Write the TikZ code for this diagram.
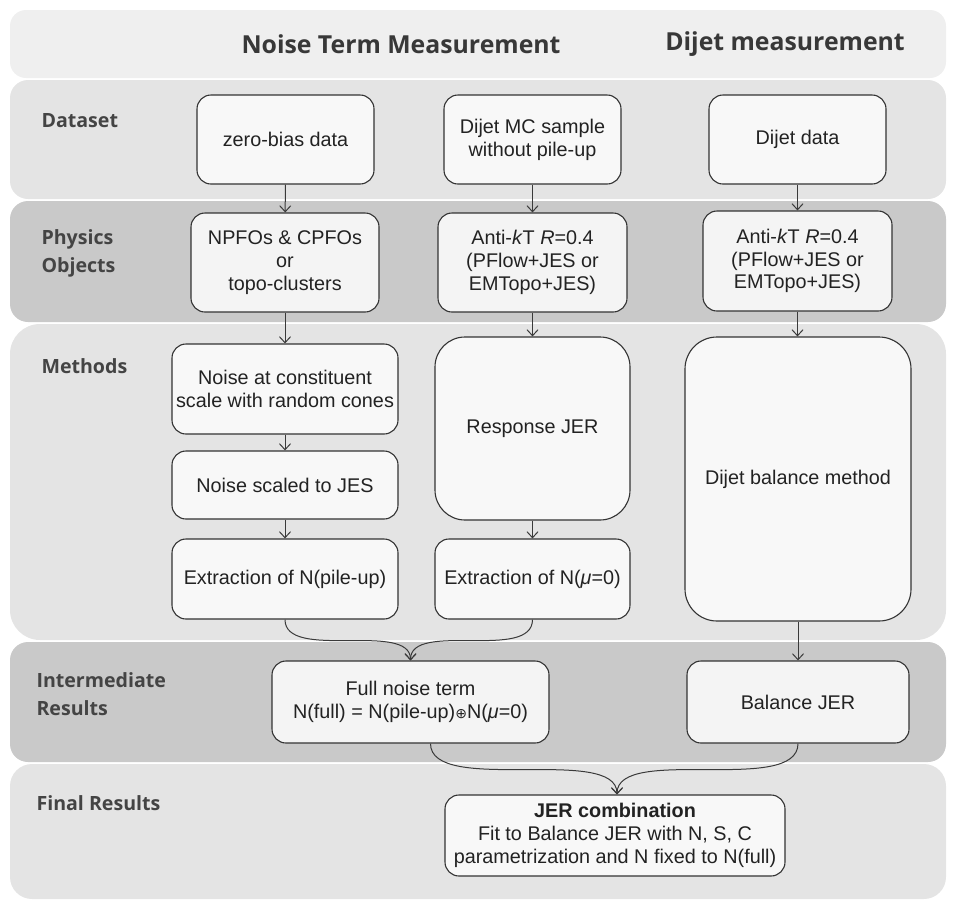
\documentclass[tikz,border=0pt]{standalone}
\usepackage{fontspec}
\setmainfont{Liberation Sans}
\newfontfamily\osans{Open Sans}
\newfontfamily\dejavu{DejaVu Sans}
\usetikzlibrary{arrows.meta,calc}
\definecolor{hdr}{HTML}{EFEFEF}
\definecolor{lightband}{HTML}{E4E4E4}
\definecolor{darkband}{HTML}{C9C9C9}
\definecolor{boxfill}{HTML}{F8F8F8}
\definecolor{boxfilld}{HTML}{F4F4F4}
\definecolor{boxline}{HTML}{333333}
\definecolor{txt}{HTML}{222222}
\definecolor{lab}{HTML}{444444}
\definecolor{head}{HTML}{383838}
\definecolor{arrcol}{HTML}{3A3A3A}
\begin{document}
\begin{tikzpicture}[x=1pt,y=-1pt,
  box/.style={draw=boxline, line width=1.1pt, fill=boxfill, rounded corners=14pt,
    align=center, inner sep=2pt, font=\fontsize{19.8}{22.8}\selectfont, text=txt},
  dbox/.style={box, fill=boxfilld},
  arr/.style={draw=arrcol, line width=1pt, -{Straight Barb[length=6pt,width=11pt]}},
  rowlab/.style={anchor=west, align=left, font=\osans\bfseries\fontsize{19.6}{28}\selectfont, text=lab},
  headlab/.style={font=\osans\bfseries\fontsize{24.8}{28}\selectfont, text=head}]
\useasboundingbox (0,0) rectangle (958,911);
% bands
\fill[hdr, rounded corners=16pt] (10,10) rectangle (946,78);
\fill[lightband, rounded corners=18pt] (10,80) rectangle (946,199);
\fill[darkband, rounded corners=18pt] (10,201) rectangle (946,322);
\fill[lightband, rounded corners=30pt] (10,324) rectangle (946,640);
\fill[darkband, rounded corners=18pt] (10,642) rectangle (946,762);
\fill[lightband, rounded corners=22pt] (10,764) rectangle (946,899);
% headings
\node[headlab] (h1) at (401,44) {Noise Term Measurement};
\node[headlab] (h2) at (785,44) {Dijet measurement};
% row labels
\node[rowlab] (l1) at (38,120.5) {Dataset};
\node[rowlab] (l2) at (38,253.5) {Physics\\Objects};
\node[rowlab] (l3) at (38,366) {Methods};
\node[rowlab] (l4) at (33,694) {Intermediate\\Results};
\node[rowlab] (l5) at (33,803) {Final Results};
% boxes
\node[box, minimum width=177pt, minimum height=89pt] (zb) at (285.5,139.5) {zero-bias data};
\node[box, minimum width=177pt, minimum height=89pt] (mc) at (532.5,139.5) {Dijet MC sample\\without pile-up};
\node[box, minimum width=177pt, minimum height=89pt] (dd) at (797.5,139.5) {Dijet data};
\node[dbox, minimum width=188pt, minimum height=99pt] (np) at (285,262.5) {NPFOs \& CPFOs\\or\\topo-clusters};
\node[dbox, minimum width=189pt, minimum height=99pt] (ak1) at (532.5,262.5) {Anti-\textit{k}T \textit{R}=0.4\\(PFlow+JES or\\EMTopo+JES)};
\node[dbox, minimum width=189pt, minimum height=100pt] (ak2) at (797.5,261) {Anti-\textit{k}T \textit{R}=0.4\\(PFlow+JES or\\EMTopo+JES)};
\node[box, minimum width=226pt, minimum height=90pt] (nc) at (285,389) {Noise at constituent\\scale with random cones};
\node[box, minimum width=226pt, minimum height=68pt] (ns) at (285,485) {Noise scaled to JES};
\node[box, minimum width=226pt, minimum height=80pt] (pu) at (285,579) {Extraction of N(pile-up)};
\node[box, rounded corners=30pt, minimum width=195pt, minimum height=183pt] (rj) at (532.5,428.5) {Response JER};
\node[box, minimum width=195pt, minimum height=80pt] (mu) at (532.5,579) {Extraction of N(\textit{μ}=0)};
\node[box, rounded corners=32pt, minimum width=226pt, minimum height=284pt] (db) at (798,479) {Dijet balance method};
\node[dbox, minimum width=277pt, minimum height=82pt] (fn) at (410.5,702) {Full noise term\\N(full) = N(pile-up){\dejavu\fontsize{14}{14}\selectfont ⊕}N(\textit{μ}=0)};
\node[dbox, minimum width=222pt, minimum height=82pt] (bj) at (798,702) {Balance JER};
\node[box, minimum width=340pt, minimum height=81pt] (jc) at (615,835.5) {\textbf{JER combination}\\Fit to Balance JER with N, S, C\\parametrization and N fixed to N(full)};
% arrows
\draw[arr] (zb) -- (np);
\draw[arr] (mc) -- (ak1);
\draw[arr] (dd) -- (ak2);
\draw[arr] (np) -- (nc);
\draw[arr] (ak1) -- (rj);
\draw[arr] (ak2.south) -- (ak2.south |- db.north);
\draw[arr] (nc) -- (ns);
\draw[arr] (ns) -- (pu);
\draw[arr] (rj) -- (mu);
\draw[arr] (db.south) -- (db.south |- bj.north);
\draw[arr] (pu.south) .. controls +(0,42) and +(0,-40) .. (fn.north);
\draw[arr] (mu.south) .. controls +(0,42) and +(0,-40) .. (fn.north);
\draw[arr] ([xshift=20pt]fn.south) .. controls +(0,52) and +(0,-50) .. ([xshift=2pt]jc.north);
\draw[arr] (bj.south) .. controls +(0,52) and +(0,-50) .. ([xshift=2pt]jc.north);
\end{tikzpicture}
\end{document}
